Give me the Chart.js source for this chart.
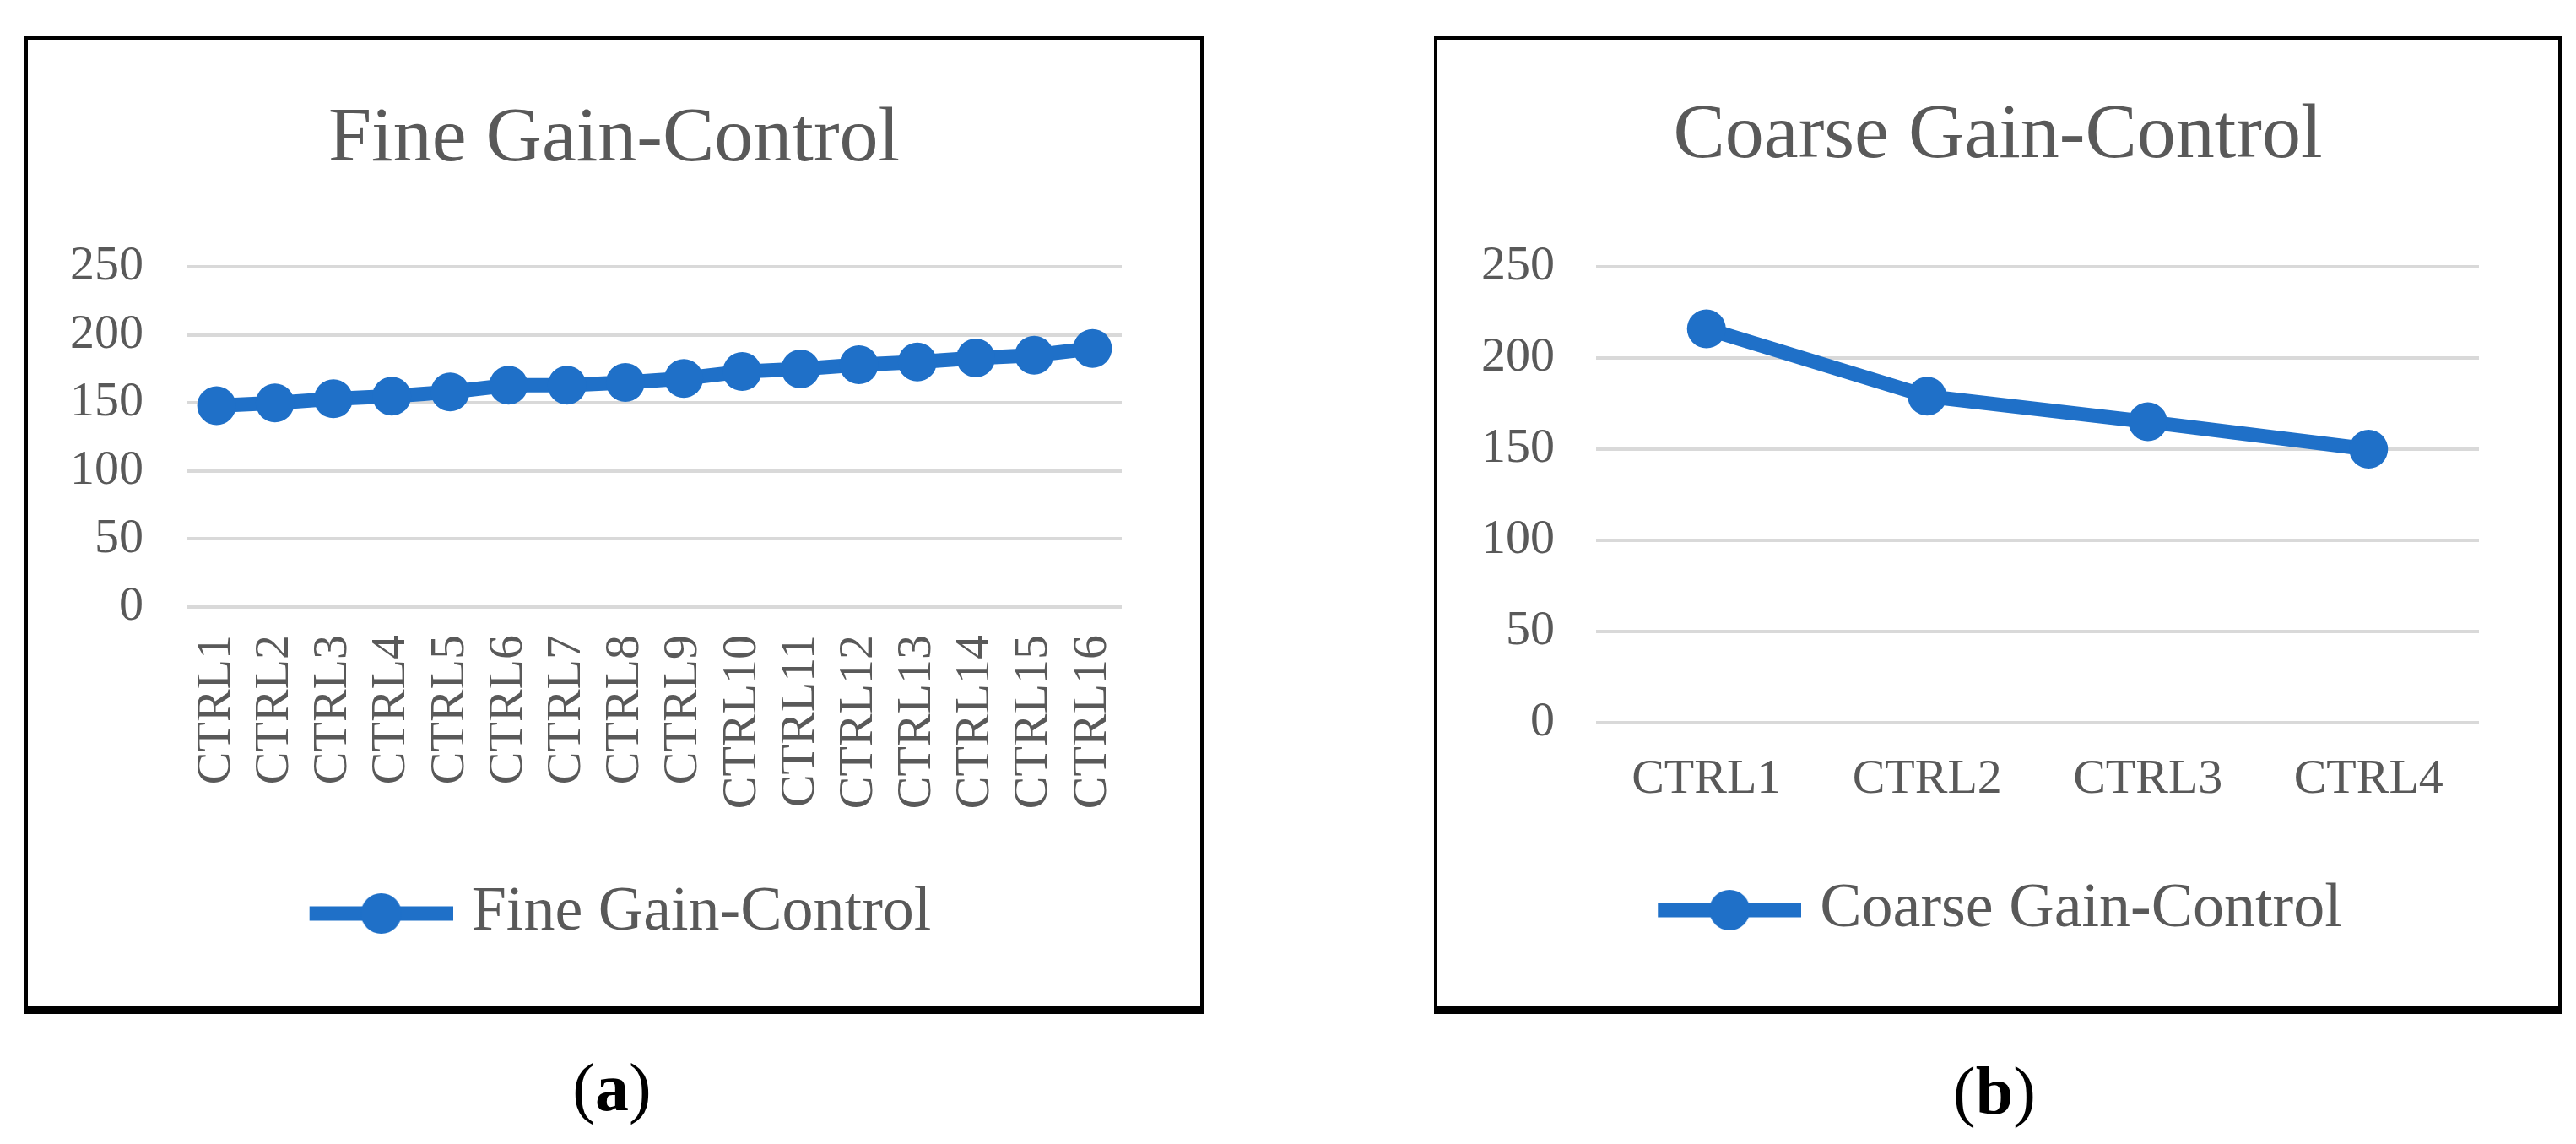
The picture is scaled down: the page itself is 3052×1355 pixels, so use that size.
<!DOCTYPE html>
<html>
<head>
<meta charset="utf-8">
<script src="https://cdn.jsdelivr.net/npm/chart.js@4.4.1/dist/chart.umd.min.js"></script>
<style>
  body { margin: 0; background: #fff; width: 3052px; height: 1355px; position: relative; overflow: hidden;
         font-family: "Liberation Serif", "Times New Roman", serif; }
  .panel { position: absolute; top: 43px; height: 1158px; box-sizing: border-box; background: #fff;
           border: 4px solid #000; border-bottom-width: 10px; }
  #panelA { left: 29px; width: 1397px; }
  #panelB { left: 1699px; width: 1336px; }
  .panel canvas { display: block; }
  .caption { position: absolute; font-size: 80px; color: #000; transform: translate(-50%, -50%); white-space: nowrap; }
</style>
</head>
<body>
<div class="panel" id="panelA"><canvas id="fineChart" width="1389" height="1144"></canvas></div>
<div class="panel" id="panelB"><canvas id="coarseChart" width="1328" height="1144"></canvas></div>
<div class="caption" style="left:725px; top:1288px;">(<b>a</b>)</div>
<div class="caption" style="left:2363px; top:1292px;">(<b>b</b>)</div>
<script>
// values
const fineLabels = ['CTRL1', 'CTRL2', 'CTRL3', 'CTRL4', 'CTRL5', 'CTRL6', 'CTRL7', 'CTRL8',
                    'CTRL9', 'CTRL10', 'CTRL11', 'CTRL12', 'CTRL13', 'CTRL14', 'CTRL15', 'CTRL16'];
const fineValues = [148, 150, 153, 155, 158, 163, 163, 165, 168, 173, 175, 178, 180, 183, 185, 190];

const coarseLabels = ['CTRL1', 'CTRL2', 'CTRL3', 'CTRL4'];
const coarseValues = [216, 179, 165, 150];

const yTicks = [0, 50, 100, 150, 200, 250];

const blue = '#1f70c8';
const grey = '#595959';
const serif = "'Liberation Serif', 'Times New Roman', serif";

// Excel style legend key: a line with a dot in the middle.
// 'shift' leaves blank room on the left so the centred legend sits a bit further right
function legendIcon(shift) {
  const c = document.createElement('canvas');
  c.width = 170 + shift;
  c.height = 50;
  const ctx = c.getContext('2d');
  ctx.strokeStyle = blue;
  ctx.lineWidth = 17;
  ctx.beginPath();
  ctx.moveTo(shift, 25);
  ctx.lineTo(170 + shift, 25);
  ctx.stroke();
  ctx.fillStyle = blue;
  ctx.beginPath();
  ctx.arc(85 + shift, 25, 24, 0, Math.PI * 2);
  ctx.fill();
  return c;
}

function makeChart(id, labels, values, name, opts) {
  const ctx = document.getElementById(id).getContext('2d');
  return new Chart(ctx, {
    type: 'line',
    data: {
      labels: labels,
      datasets: [{
        label: name,
        data: values,
        borderColor: blue,
        backgroundColor: blue,
        borderWidth: 17,
        pointRadius: 23,
        pointHoverRadius: 23,
        pointBorderWidth: 0,
        tension: 0,
      }],
    },
    options: {
      responsive: false,
      animation: false,
      devicePixelRatio: 1,
      layout: { padding: { left: 50, right: 50, top: 0, bottom: opts.bottom } },
      plugins: {
        title: {
          display: true,
          text: name,
          color: grey,
          font: { family: serif, size: 92, weight: 'normal' },
          padding: { top: opts.titleTop, bottom: opts.titleBottom },
        },
        legend: {
          position: 'bottom',
          labels: {
            usePointStyle: true,
            pointStyle: legendIcon(opts.legendShift),
            pointStyleWidth: 140 + opts.legendShift,
            color: grey,
            font: { family: serif, size: 74 },
            padding: 10,
          },
        },
        tooltip: { enabled: false },
      },
      scales: {
        x: {
          offset: true,
          grid: { display: false, drawTicks: false },
          border: { display: false },
          ticks: {
            color: grey,
            font: { family: serif, size: 58 },
            padding: 33,
            minRotation: opts.rot,
            maxRotation: opts.rot,
            autoSkip: false,
          },
          afterFit: (axis) => { axis.height = opts.xHeight; },
        },
        y: {
          min: 0,
          max: 250,
          grid: { color: '#d9d9d9', lineWidth: 4, drawTicks: false },
          border: { display: false },
          ticks: {
            color: grey,
            font: { family: serif, size: 58 },
            padding: opts.yPad,
          },
          afterBuildTicks: (axis) => { axis.ticks = yTicks.map((v) => ({ value: v })); },
          afterFit: (axis) => { axis.width = opts.yWidth; },
        },
        // empty axis on the right, only keeps the right margin so title and legend stay centred
        yRight: {
          position: 'right',
          grid: { display: false, drawTicks: false },
          border: { display: false },
          ticks: { display: false },
          afterFit: (axis) => { axis.width = opts.rightGap; },
        },
      },
    },
  });
}

makeChart('fineChart', fineLabels, fineValues, 'Fine Gain-Control',
  { bottom: 62, titleTop: 64, titleBottom: 94.6, xHeight: 316, yWidth: 139, yPad: 52, rightGap: 43,
    rot: 90, legendShift: 30 });

makeChart('coarseChart', coarseLabels, coarseValues, 'Coarse Gain-Control',
  { bottom: 66, titleTop: 60, titleBottom: 98.6, xHeight: 175, yWidth: 138, yPad: 49, rightGap: 44,
    rot: 0, legendShift: 20 });
</script>
</body>
</html>
